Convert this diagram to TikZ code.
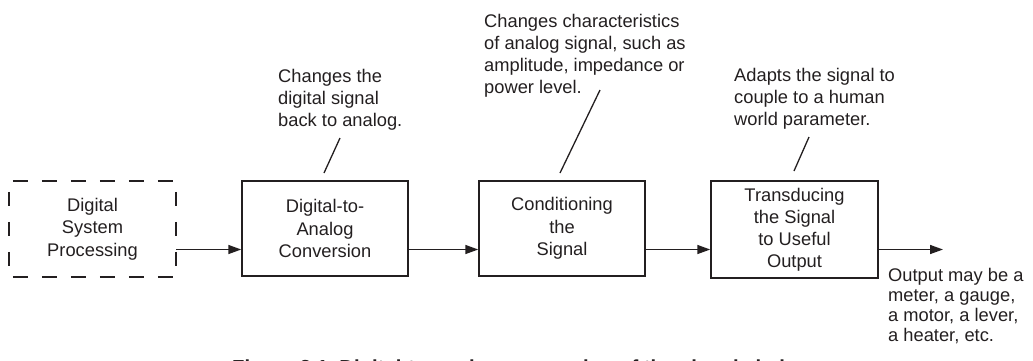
\documentclass[tikz,border=0pt]{standalone}
\usepackage{fontspec}
\setmainfont{Liberation Sans}
\usetikzlibrary{arrows.meta}
\definecolor{ink}{HTML}{231F20}
\tikzset{
  every node/.style={text=ink},
  boxtxt/.style={font=\fontsize{18.3}{22.5}\selectfont, align=center},
  stagebox/.style={draw=ink, line width=1.5pt, minimum width=166pt, minimum height=95pt, inner sep=0pt, boxtxt},
  note/.style={font=\fontsize{18.3}{21.8}\selectfont, align=left, anchor=base west, inner sep=0pt},
  arr/.style={draw=ink, line width=1.5pt, -{Triangle[length=13pt,width=9pt]}},
  leader/.style={draw=ink, line width=1.3pt},
  dashedge/.style={draw=ink, line width=1.6pt}
}
\begin{document}
\begin{tikzpicture}[x=1pt,y=-1pt]
\useasboundingbox (0,0) rectangle (1033,360);
% dashed box
\node[boxtxt, minimum width=167pt, minimum height=95.5pt, inner sep=0pt] (dsp) at (92.5,229.2) {Digital\\System\\Processing};
\draw[dashedge, dash pattern=on 15pt off 14pt, dash phase=25pt] (dsp.north west) -- (dsp.north east);
\draw[dashedge, dash pattern=on 15pt off 14pt, dash phase=25pt] (dsp.south west) -- (dsp.south east);
\draw[dashedge, dash pattern=on 14pt off 16pt, dash phase=19.5pt] (dsp.north west) -- (dsp.south west);
\draw[dashedge, dash pattern=on 14pt off 16pt, dash phase=19.5pt] (dsp.north east) -- (dsp.south east);
% stage boxes
\node[stagebox] (dac) at (325,228.5) {Digital-to-\\Analog\\Conversion};
\node[stagebox] (cond) at (562,228.5) {Conditioning\\the\\Signal};
\node[stagebox, minimum width=167pt, minimum height=97pt, font=\fontsize{18.3}{22}\selectfont] (trans) at (794.5,229.5) {Transducing\\the Signal\\to Useful\\Output};
\coordinate (outend) at (943,249.5);
% arrows
\draw[arr] (dsp.east |- 0,249.5) -- (dac.west |- 0,249.5);
\draw[arr] (dac.east |- 0,249.5) -- (cond.west |- 0,249.5);
\draw[arr] (cond.east |- 0,249.5) -- (trans.west |- 0,249.5);
\draw[arr] (trans.east |- 0,249.5) -- (outend);
% annotations (anchor = baseline of last line)
\node[note] (n1) at (278,126.5) {Changes the\\digital signal\\back to analog.};
\node[note, font=\fontsize{18.3}{22}\selectfont] (n2) at (484,93) {Changes characteristics\\of analog signal, such as\\amplitude, impedance or\\power level.};
\node[note, font=\fontsize{18.3}{22}\selectfont] (n3) at (734,125) {Adapts the signal to\\couple to a human\\world parameter.};
\node[note, font=\fontsize{18.3}{20}\selectfont] (n4) at (888,341) {Output may be a\\meter, a gauge,\\a motor, a lever,\\a heater, etc.};
% leaders
\coordinate (l1a) at (340,138); \coordinate (l1b) at (324,173);
\coordinate (l2a) at (600,90);  \coordinate (l2b) at (560,173);
\coordinate (l3a) at (809,137); \coordinate (l3b) at (794,171);
\draw[leader] (l1a) -- (l1b);
\draw[leader] (l2a) -- (l2b);
\draw[leader] (l3a) -- (l3b);
% caption (cut off by page edge)
\begin{scope}
\clip (0,0) rectangle (1033,360);
\node[anchor=base west, inner sep=0pt, font=\bfseries\fontsize{20.3}{24}\selectfont] (cap) at (232,374) {Figure 3.1\ \ Digital-to-analog conversion of the signal chain.};
\end{scope}
\end{tikzpicture}
\end{document}
